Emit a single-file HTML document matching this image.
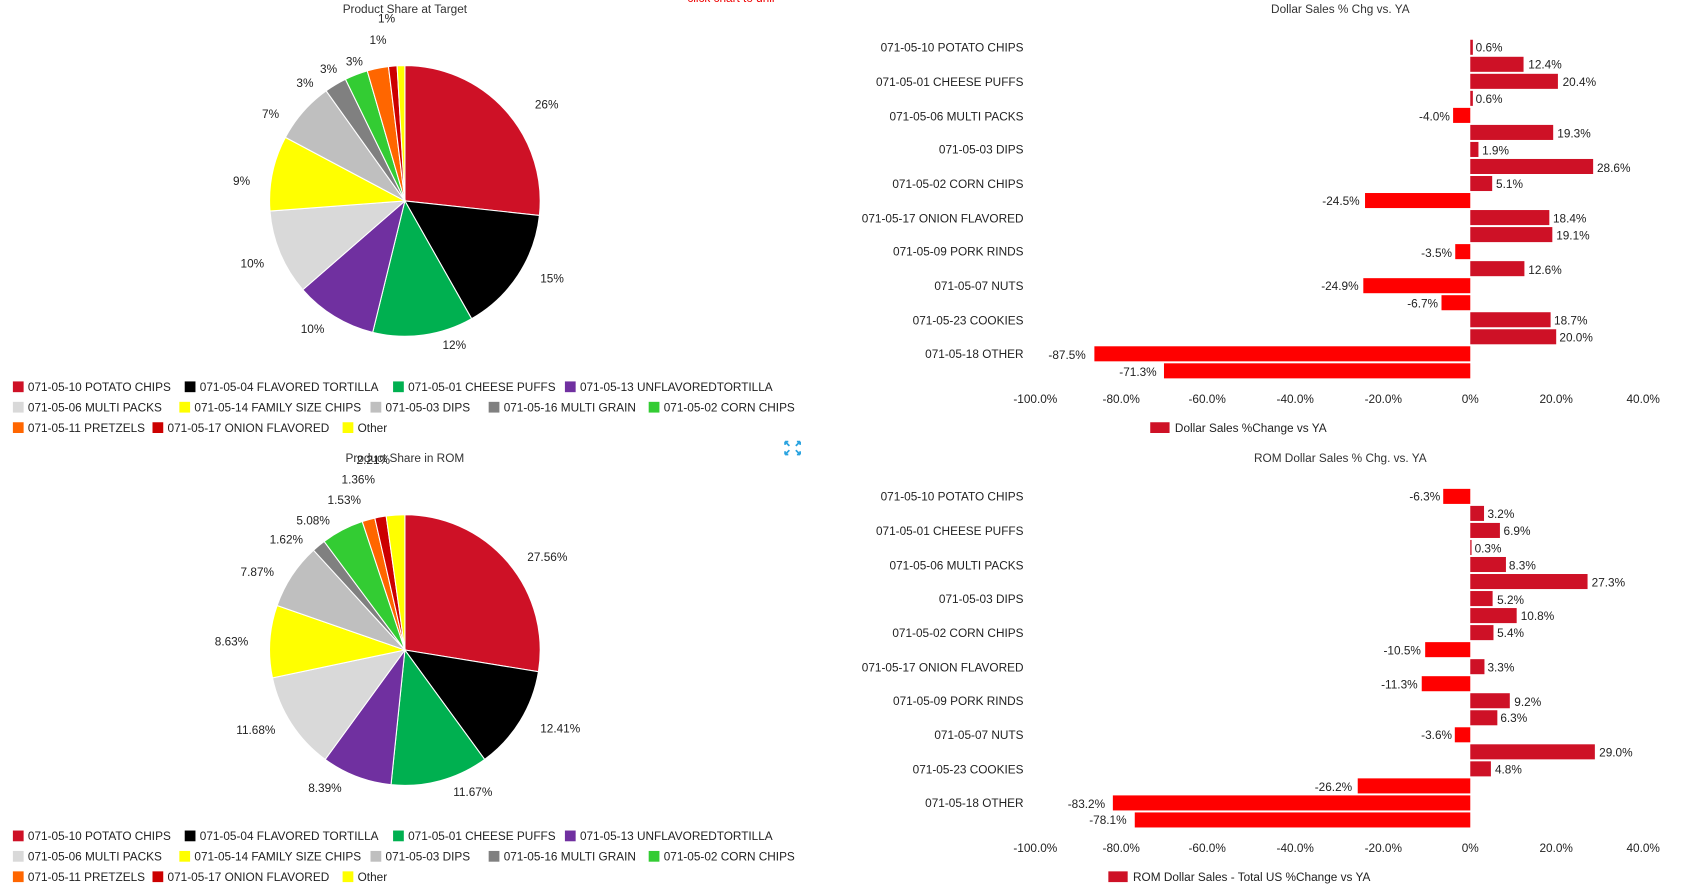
<!DOCTYPE html>
<html><head><meta charset="utf-8"><style>
html,body{margin:0;padding:0;background:#fff;width:1684px;height:895px;overflow:hidden}
svg{display:block}
text{font-family:"Liberation Sans",sans-serif;font-size:11px;fill:#222}
.t{font-size:11px;fill:#333}
</style></head><body>
<svg id="s" width="1684" height="895" viewBox="0 0 1568 833" preserveAspectRatio="none" xmlns="http://www.w3.org/2000/svg">
<g id="pies"></g><g id="bars"></g>
<text x="640" y="2" fill="#e00" style="fill:#e00">click chart to drill</text>
<text class="t" x="377" y="12" text-anchor="middle">Product Share at Target</text>
<text class="t" x="377" y="430" text-anchor="middle">Product Share in ROM</text>
<text class="t" x="1248" y="12" text-anchor="middle">Dollar Sales % Chg vs. YA</text>
<text class="t" x="1248" y="430" text-anchor="middle">ROM Dollar Sales % Chg. vs. YA</text>
<g font-size="11">
<text x="498" y="101">26%</text><text x="503" y="263">15%</text><text x="412" y="325">12%</text><text x="280" y="310">10%</text><text x="224" y="249">10%</text><text x="217" y="172">9%</text><text x="244" y="110">7%</text><text x="276" y="81">3%</text><text x="298" y="68">3%</text><text x="322" y="61">3%</text><text x="344" y="41">1%</text><text x="352" y="21">1%</text>
<text x="491" y="522">27.56%</text><text x="503" y="682">12.41%</text><text x="422" y="741">11.67%</text><text x="287" y="737">8.39%</text><text x="220" y="683">11.68%</text><text x="200" y="601">8.63%</text><text x="224" y="536">7.87%</text><text x="251" y="506">1.62%</text><text x="276" y="488">5.08%</text><text x="305" y="469">1.53%</text><text x="318" y="450">1.36%</text><text x="332" y="432">2.21%</text>
</g>
<g id="leg1">
<rect x="12" y="355" width="10" height="10" fill="#ce1126"/><text x="26" y="364">071-05-10 POTATO CHIPS</text>
<rect x="172" y="355" width="10" height="10" fill="#000"/><text x="186" y="364">071-05-04 FLAVORED TORTILLA</text>
<rect x="366" y="355" width="10" height="10" fill="#00b050"/><text x="380" y="364">071-05-01 CHEESE PUFFS</text>
<rect x="526" y="355" width="10" height="10" fill="#7030a0"/><text x="540" y="364">071-05-13 UNFLAVOREDTORTILLA</text>
<rect x="12" y="374" width="10" height="10" fill="#d9d9d9"/><text x="26" y="383">071-05-06 MULTI PACKS</text>
<rect x="167" y="374" width="10" height="10" fill="#ffff00"/><text x="181" y="383">071-05-14 FAMILY SIZE CHIPS</text>
<rect x="345" y="374" width="10" height="10" fill="#bfbfbf"/><text x="359" y="383">071-05-03 DIPS</text>
<rect x="455" y="374" width="10" height="10" fill="#808080"/><text x="469" y="383">071-05-16 MULTI GRAIN</text>
<rect x="604" y="374" width="10" height="10" fill="#33cc33"/><text x="618" y="383">071-05-02 CORN CHIPS</text>
<rect x="12" y="393" width="10" height="10" fill="#ff6600"/><text x="26" y="402">071-05-11 PRETZELS</text>
<rect x="142" y="393" width="10" height="10" fill="#cc0000"/><text x="156" y="402">071-05-17 ONION FLAVORED</text>
<rect x="319" y="393" width="10" height="10" fill="#ffff00"/><text x="333" y="402">Other</text>
</g>
<g transform="translate(0,418)">
<rect x="12" y="355" width="10" height="10" fill="#ce1126"/><text x="26" y="364">071-05-10 POTATO CHIPS</text>
<rect x="172" y="355" width="10" height="10" fill="#000"/><text x="186" y="364">071-05-04 FLAVORED TORTILLA</text>
<rect x="366" y="355" width="10" height="10" fill="#00b050"/><text x="380" y="364">071-05-01 CHEESE PUFFS</text>
<rect x="526" y="355" width="10" height="10" fill="#7030a0"/><text x="540" y="364">071-05-13 UNFLAVOREDTORTILLA</text>
<rect x="12" y="374" width="10" height="10" fill="#d9d9d9"/><text x="26" y="383">071-05-06 MULTI PACKS</text>
<rect x="167" y="374" width="10" height="10" fill="#ffff00"/><text x="181" y="383">071-05-14 FAMILY SIZE CHIPS</text>
<rect x="345" y="374" width="10" height="10" fill="#bfbfbf"/><text x="359" y="383">071-05-03 DIPS</text>
<rect x="455" y="374" width="10" height="10" fill="#808080"/><text x="469" y="383">071-05-16 MULTI GRAIN</text>
<rect x="604" y="374" width="10" height="10" fill="#33cc33"/><text x="618" y="383">071-05-02 CORN CHIPS</text>
<rect x="12" y="393" width="10" height="10" fill="#ff6600"/><text x="26" y="402">071-05-11 PRETZELS</text>
<rect x="142" y="393" width="10" height="10" fill="#cc0000"/><text x="156" y="402">071-05-17 ONION FLAVORED</text>
<rect x="319" y="393" width="10" height="10" fill="#ffff00"/><text x="333" y="402">Other</text>
</g>
<g fill="none" stroke="#29a3e0" stroke-width="1.6"><path d="M731 411 l4 4 M731 411 h3 M731 411 v3 M745 411 l-4 4 M745 411 h-3 M745 411 v3 M731 423 l4 -4 M731 423 h3 M731 423 v-3 M745 423 l-4 -4 M745 423 h-3 M745 423 v-3"/></g>
<g text-anchor="end">
<text x="953" y="48">071-05-10 POTATO CHIPS</text><text x="953" y="80">071-05-01 CHEESE PUFFS</text><text x="953" y="112">071-05-06 MULTI PACKS</text><text x="953" y="143">071-05-03 DIPS</text><text x="953" y="175">071-05-02 CORN CHIPS</text><text x="953" y="207">071-05-17 ONION FLAVORED</text><text x="953" y="238">071-05-09 PORK RINDS</text><text x="953" y="270">071-05-07 NUTS</text><text x="953" y="302">071-05-23 COOKIES</text><text x="953" y="333">071-05-18 OTHER</text>
<text x="953" y="466">071-05-10 POTATO CHIPS</text><text x="953" y="498">071-05-01 CHEESE PUFFS</text><text x="953" y="530">071-05-06 MULTI PACKS</text><text x="953" y="561">071-05-03 DIPS</text><text x="953" y="593">071-05-02 CORN CHIPS</text><text x="953" y="625">071-05-17 ONION FLAVORED</text><text x="953" y="656">071-05-09 PORK RINDS</text><text x="953" y="688">071-05-07 NUTS</text><text x="953" y="720">071-05-23 COOKIES</text><text x="953" y="751">071-05-18 OTHER</text>
</g>
<g text-anchor="middle">
<text x="964" y="375">-100.0%</text><text x="1044" y="375">-80.0%</text><text x="1124" y="375">-60.0%</text><text x="1206" y="375">-40.0%</text><text x="1288" y="375">-20.0%</text><text x="1369" y="375">0%</text><text x="1449" y="375">20.0%</text><text x="1530" y="375">40.0%</text>
<text x="964" y="793">-100.0%</text><text x="1044" y="793">-80.0%</text><text x="1124" y="793">-60.0%</text><text x="1206" y="793">-40.0%</text><text x="1288" y="793">-20.0%</text><text x="1369" y="793">0%</text><text x="1449" y="793">20.0%</text><text x="1530" y="793">40.0%</text>
</g>
<rect x="1071" y="393" width="18" height="10" fill="#ce1126"/><text x="1094" y="402">Dollar Sales %Change vs YA</text>
<rect x="1032" y="811" width="18" height="10" fill="#ce1126"/><text x="1055" y="820">ROM Dollar Sales - Total US %Change vs YA</text>
<g>
<text x="1374" y="48">0.6%</text><text x="1423" y="64">12.4%</text><text x="1455" y="80">20.4%</text><text x="1374" y="96">0.6%</text><text x="1350" y="112" text-anchor="end">-4.0%</text><text x="1450" y="128">19.3%</text><text x="1380" y="144">1.9%</text><text x="1487" y="160">28.6%</text><text x="1393" y="175">5.1%</text><text x="1266" y="191" text-anchor="end">-24.5%</text><text x="1446" y="207">18.4%</text><text x="1449" y="223">19.1%</text><text x="1352" y="239" text-anchor="end">-3.5%</text><text x="1423" y="255">12.6%</text><text x="1265" y="270" text-anchor="end">-24.9%</text><text x="1339" y="286" text-anchor="end">-6.7%</text><text x="1447" y="302">18.7%</text><text x="1452" y="318">20.0%</text><text x="1011" y="334" text-anchor="end">-87.5%</text><text x="1077" y="350" text-anchor="end">-71.3%</text>
<text x="1341" y="466" text-anchor="end">-6.3%</text><text x="1385" y="482">3.2%</text><text x="1400" y="498">6.9%</text><text x="1373" y="514">0.3%</text><text x="1405" y="530">8.3%</text><text x="1482" y="546">27.3%</text><text x="1394" y="562">5.2%</text><text x="1416" y="577">10.8%</text><text x="1394" y="593">5.4%</text><text x="1323" y="609" text-anchor="end">-10.5%</text><text x="1385" y="625">3.3%</text><text x="1320" y="641" text-anchor="end">-11.3%</text><text x="1410" y="657">9.2%</text><text x="1397" y="672">6.3%</text><text x="1352" y="688" text-anchor="end">-3.6%</text><text x="1489" y="704">29.0%</text><text x="1392" y="720">4.8%</text><text x="1259" y="736" text-anchor="end">-26.2%</text><text x="1029" y="752" text-anchor="end">-83.2%</text><text x="1049" y="767" text-anchor="end">-78.1%</text>
</g>
</svg>
<script>
var NS="http://www.w3.org/2000/svg";
var cols=["#ce1126","#000","#00b050","#7030a0","#d9d9d9","#ffff00","#bfbfbf","#808080","#33cc33","#ff6600","#cc0000","#ffff00"];
function pie(cx,cy,r,vals){var g=document.getElementById("pies");var tot=vals.reduce(function(a,b){return a+b},0);var a=-Math.PI/2;
vals.forEach(function(v,i){var b=a+v/tot*2*Math.PI;var p=document.createElementNS(NS,"path");
var x1=cx+r*Math.cos(a),y1=cy+r*Math.sin(a),x2=cx+r*Math.cos(b),y2=cy+r*Math.sin(b);
p.setAttribute("d","M"+cx+" "+cy+"L"+x1+" "+y1+"A"+r+" "+r+" 0 "+((b-a)>Math.PI?1:0)+" 1 "+x2+" "+y2+"Z");
p.setAttribute("fill",cols[i]);p.setAttribute("stroke","#fff");p.setAttribute("stroke-width","1");g.appendChild(p);a=b;});}
pie(377,187,126,[26.2,14.8,11.8,9.6,10.0,8.8,7.2,2.6,2.7,2.5,1.0,0.9]);
pie(377,605,126,[27.56,12.41,11.67,8.39,11.68,8.63,7.87,1.62,5.08,1.53,1.36,2.21]);
function bars(y0,vals){var g=document.getElementById("bars");vals.forEach(function(v,i){var y=y0+15.85*i;var r=document.createElementNS(NS,"rect");
var x=v>=0?1369:1369+4*v;r.setAttribute("x",x);r.setAttribute("y",y-7);r.setAttribute("width",Math.abs(4*v));r.setAttribute("height",14);
r.setAttribute("fill",v<0?"#ff0000":"#ce1126");g.appendChild(r);});}
bars(44,[0.6,12.4,20.4,0.6,-4.0,19.3,1.9,28.6,5.1,-24.5,18.4,19.1,-3.5,12.6,-24.9,-6.7,18.7,20.0,-87.5,-71.3]);
bars(462,[-6.3,3.2,6.9,0.3,8.3,27.3,5.2,10.8,5.4,-10.5,3.3,-11.3,9.2,6.3,-3.6,29.0,4.8,-26.2,-83.2,-78.1]);
</script>
</body></html>
